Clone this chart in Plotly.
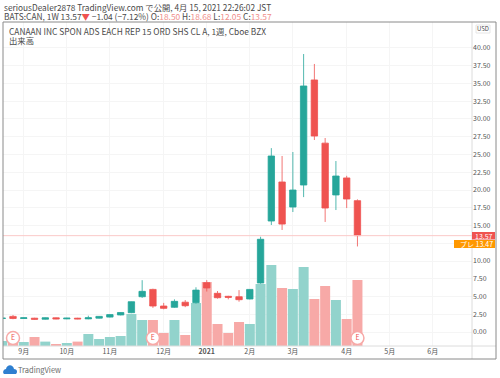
import plotly.graph_objects as go

W, H = 500, 378
L, R, T, B = 3, 472, 22, 346

dates = ["2020-08-24","2020-08-31","2020-09-07","2020-09-14","2020-09-21","2020-09-28","2020-10-05","2020-10-12",
         "2020-10-19","2020-10-26","2020-11-02","2020-11-09","2020-11-16","2020-11-23","2020-11-30","2020-12-07",
         "2020-12-14","2020-12-21","2020-12-28","2021-01-04","2021-01-11","2021-01-18","2021-01-25","2021-02-01",
         "2021-02-08","2021-02-15","2021-02-22","2021-03-01","2021-03-08","2021-03-15","2021-03-22","2021-03-29",
         "2021-04-05","2021-04-12"]
opens  = [1.90,2.20,1.90,1.95,1.80,2.00,1.85,1.95,1.85,1.95,2.10,2.40,2.72,4.97,6.00,3.66,3.48,4.20,4.13,6.95,5.45,5.03,4.97,4.65,6.90,15.63,21.13,17.60,20.70,35.50,26.60,19.30,21.70,18.50]
highs  = [2.00,2.40,2.05,2.00,2.05,2.05,2.00,2.00,2.30,2.25,2.50,2.80,4.30,7.30,6.10,4.10,4.60,4.50,6.30,7.30,5.77,5.10,5.90,6.05,13.42,25.90,24.79,25.35,39.15,37.75,27.32,24.08,22.00,18.68]
lows   = [1.85,1.80,1.85,1.75,1.75,1.80,1.80,1.80,1.80,1.90,2.05,2.35,2.65,4.80,3.40,3.20,3.40,3.50,4.00,5.70,4.70,4.60,4.27,4.60,6.80,15.07,14.37,16.90,19.00,27.04,15.50,17.18,17.46,12.05]
closes = [1.95,1.90,2.00,1.80,2.00,1.85,1.95,1.85,2.00,2.20,2.45,2.75,4.27,5.73,3.66,3.33,4.32,3.70,5.90,6.20,4.83,4.89,4.55,6.00,13.06,24.79,15.20,20.00,34.65,27.60,17.46,21.97,18.73,13.57]
volumes_m = [1.25,1.0,1.0,2.25,1.1,0.5,0.75,1.1,3.0,1.75,2.25,2.5,8.0,6.5,6.5,3.25,6.5,2.75,10.75,16.0,5.5,3.25,6.0,5.5,15.5,20.25,14.5,14.25,19.75,11.75,15.0,11.5,6.75,16.5]
earnings_dates = ["2020-08-31", "2020-11-30", "2021-04-12"]
earnings_level = [-0.85, -0.85, -0.85]
month_ticks = ["2020-09-07","2020-10-05","2020-11-02","2020-12-07","2021-01-04","2021-02-01","2021-03-01","2021-04-05","2021-05-03","2021-05-31"]
month_labels = ["9月","10月","11月","12月","<b>2021</b>","2月","3月","4月","5月","6月"]
price_ticks = [i * 2.5 for i in range(17)]
price_labels = ["" if v == 12.5 else f"{v:.2f}" for v in price_ticks]
last_price = 13.57
pre_price = 13.47

UP, DOWN = "#26a69a", "#ef5350"
UP_V, DOWN_V = "#92d3cc", "#f7a9a7"
FONT = "Noto Sans CJK JP, Noto Sans, sans-serif"
TXT = "#4a4a4a"


def px(x):
    return (x - L) / (R - L)


def py(y):
    return (B - y) / (B - T)


fig = go.Figure()
fig.add_trace(go.Bar(x=dates, y=volumes_m, yaxis="y", xaxis="x",
                     marker=dict(color=[UP_V if c >= o else DOWN_V for o, c in zip(opens, closes)], line=dict(width=0)),
                     showlegend=False))
fig.add_trace(go.Candlestick(x=dates, open=opens, high=highs, low=lows, close=closes, yaxis="y2", xaxis="x",
                             increasing=dict(line=dict(color=UP, width=0.8), fillcolor=UP),
                             decreasing=dict(line=dict(color=DOWN, width=0.8), fillcolor=DOWN),
                             whiskerwidth=0, showlegend=False))
fig.add_trace(go.Scatter(x=earnings_dates, y=earnings_level, yaxis="y2", xaxis="x", mode="markers+text",
                         text=["E", "E", "E"], textposition="middle center",
                         textfont=dict(size=7, color=DOWN, family=FONT),
                         marker=dict(size=13, color="white", line=dict(color="#f7a9a7", width=1.5)),
                         showlegend=False))

shapes = [
    dict(type="line", xref="paper", yref="y2", x0=0, x1=1, y0=last_price, y1=last_price,
         line=dict(color="#fbc9c8", width=1)),
    dict(type="line", xref="paper", yref="paper", x0=1, x1=1, y0=py(359), y1=1, line=dict(color="#dcdcdc", width=1)),
    dict(type="line", xref="paper", yref="paper", x0=0, x1=px(496), y0=0, y1=0, line=dict(color="#dcdcdc", width=1)),
    dict(type="rect", xref="paper", yref="paper", x0=px(3), x1=px(496), y0=py(359), y1=py(22),
         line=dict(color="#8a8a8a", width=1)),
    dict(type="rect", xref="paper", yref="paper", x0=px(472), x1=px(495), y0=py(239.5), y1=py(232),
         fillcolor=DOWN, line=dict(width=0)),
    dict(type="rect", xref="paper", yref="paper", x0=px(454), x1=px(495), y0=py(248), y1=py(240),
         fillcolor="#ff9800", line=dict(width=0)),
    dict(type="rect", xref="paper", yref="paper", x0=px(476), x1=px(490), y0=py(33), y1=py(25),
         fillcolor="white", line=dict(color="#e6e6e6", width=1)),
    # TradingView cloud logo
    dict(type="path", xref="paper", yref="paper", fillcolor="#2e7fd0", line=dict(width=0),
         path=f"M {px(4)} {py(374)} C {px(2)} {py(372)} {px(4)} {py(369)} {px(6)} {py(369)} "
              f"C {px(7)} {py(364)} {px(13)} {py(364)} {px(14)} {py(369)} "
              f"C {px(17)} {py(369)} {px(18)} {py(372)} {px(16)} {py(374)} Z"),
]


def note(x, y, text, size=8.5, color=TXT, anchor="left"):
    return dict(xref="paper", yref="paper", x=px(x), y=py(y), text=text, showarrow=False, xanchor=anchor,
                yanchor="middle", align=anchor, borderpad=0, font=dict(size=size, color=color, family=FONT))


P = '<span style="color:#f0908c">'
annotations = [
    note(3, 7, "seriousDealer2878 TradingView.com で公開, 4月 15, 2021 22:26:02 JST", size=8.3),
    note(3, 15.5, f'BATS:CAN, 1W 13.57<span style="color:#ef5350">▼</span> −1.04 (−7.12%) O:{P}18.50</span> '
                  f'H:{P}18.68</span> L:{P}12.05</span> C:{P}13.57</span>', size=8.4),
    note(7.5, 30.5, "CANAAN INC SPON ADS EACH REP 15 ORD SHS CL A, 1週, Cboe BZX", size=8.4),
    note(7.5, 39.8, "出来高", size=8.4),
    note(483, 29, "USD", size=6, anchor="center"),
    note(494, 236, "13.57", size=7, color="white", anchor="right"),
    note(494, 244, f"プレ {pre_price:.2f}", size=7, color="white", anchor="right"),
    note(17, 369, "TradingView", size=7.5, color="#6a6a6a"),
]

fig.update_layout(
    width=W, height=H, autosize=False, margin=dict(l=L, r=W - R, t=T, b=H - B),
    paper_bgcolor="white", plot_bgcolor="white", bargap=0.07, boxgap=0.15, showlegend=False,
    font=dict(family=FONT, color=TXT),
    xaxis=dict(type="date", range=["2020-08-24 12:00", "2021-06-25 12:00"], tickmode="array",
               tickvals=month_ticks, ticktext=month_labels, tickfont=dict(size=7, color="#555"),
               ticks="", showgrid=True, gridcolor="#f5f5f5", gridwidth=1, zeroline=False,
               rangeslider=dict(visible=False), showline=False, fixedrange=True),
    yaxis=dict(range=[0, 81], visible=False, fixedrange=True),
    yaxis2=dict(range=[-1.97, 43.66], overlaying="y", side="right", tickmode="array", tickvals=price_ticks,
                ticktext=price_labels, tickfont=dict(size=7, color="#555"),
                ticks="", showgrid=True, gridcolor="#f5f5f5", gridwidth=1, zeroline=False, showline=False,
                fixedrange=True),
    shapes=shapes, annotations=annotations,
)
fig.write_html("out.html", config=dict(displayModeBar=False),
               post_script="document.body.style.margin='0';document.documentElement.style.overflow='hidden';")
